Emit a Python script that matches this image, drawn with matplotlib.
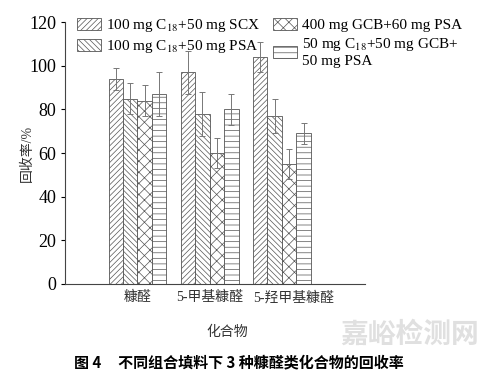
import matplotlib
matplotlib.use("Agg")
import matplotlib.pyplot as plt
import numpy as np

plt.rcParams['font.family'] = ['Liberation Serif', 'Noto Sans CJK SC']
plt.rcParams['mathtext.fontset'] = 'stix'
plt.rcParams['hatch.linewidth'] = 0.5

# data
compounds = ['糠醛', '5-甲基糠醛', '5-羟甲基糠醛']
labels = ['100 mg C$_{18}$+50 mg SCX',
          '100 mg C$_{18}$+50 mg PSA',
          '400 mg GCB+60 mg PSA',
          '50 mg C$_{18}$+50 mg GCB+\n50 mg PSA']
scx = [94, 97, 104]
psa = [85, 78, 77]
gcb_psa = [84, 60, 55]
mix = [87, 80, 69]
scx_err = [5, 10, 7]
psa_err = [7, 10, 8]
gcb_psa_err = [7, 7, 7]
mix_err = [10, 7, 5]

series = [scx, psa, gcb_psa, mix]
errors = [scx_err, psa_err, gcb_psa_err, mix_err]
hatches = ['//////', '\\\\\\\\\\\\', 'xxx', '---']

fig = plt.figure(figsize=(4.9, 3.76), dpi=100)
ax = fig.add_axes([0.133, 0.245, 0.612, 0.696])

x = np.arange(1, len(compounds) + 1)
w = 0.2
for i, (vals, errs) in enumerate(zip(series, errors)):
    ax.bar(x + (i - 1.5) * w, vals, w, color='white', edgecolor='#555555',
           linewidth=0.6, hatch=hatches[i], label=labels[i],
           yerr=errs, capsize=2.5,
           error_kw=dict(ecolor='#777777', elinewidth=0.7, capthick=0.7))

ax.set_xlim(0, 4.15)
ax.set_ylim(0, 120)
ax.set_yticks(range(0, 121, 20))
# ticks are hidden; the last label sits a bit to the right in the original
ax.set_xticks(x + np.array([0, 0, 0.16]))
ax.set_xticklabels(compounds, fontsize=10, color='#333333')
ax.tick_params(axis='y', labelsize=13, length=3, width=0.8)
ax.tick_params(axis='x', length=0, pad=5)
for s in ['top', 'right']:
    ax.spines[s].set_visible(False)
for s in ['left', 'bottom']:
    ax.spines[s].set_color('#444444')
    ax.spines[s].set_linewidth(0.8)

ax.set_ylabel('回收率/%', fontsize=10, color='#333333')
ax.yaxis.set_label_coords(-0.103, 0.5)
ax.set_xlabel('化合物', fontsize=10, color='#333333')
ax.xaxis.set_label_coords(0.54, -0.16)

fig.legend(loc='upper left', bbox_to_anchor=(0.145, 0.97), ncol=2,
           frameon=False, fontsize=11, handlelength=1.55, handleheight=0.85,
           handletextpad=0.35, columnspacing=0.85, labelspacing=0.25,
           borderaxespad=0)

fig.text(0.487, 0.037, '图 4     不同组合填料下 3 种糠醛类化合物的回收率',
         ha='center', va='center', fontsize=10.8, fontweight='bold',
         family=['Noto Sans CJK SC', 'DejaVu Sans'])
fig.text(0.835, 0.11, '嘉峪检测网', ha='center', va='center', fontsize=20,
         color='#e0e0e0', family=['Noto Sans CJK SC', 'DejaVu Sans'],
         fontweight='bold')

fig.savefig('out.png', dpi=100)
